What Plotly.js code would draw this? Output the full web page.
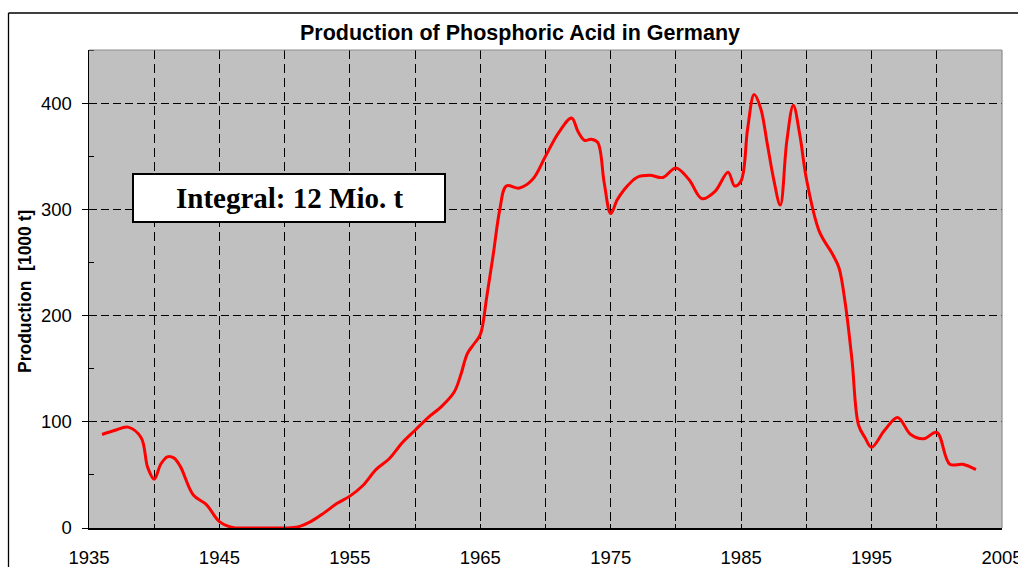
<!DOCTYPE html>
<html>
<head>
<meta charset="utf-8">
<script src="https://cdn.plot.ly/plotly-3.0.1.min.js"></script>
<style>
html,body{margin:0;padding:0;background:#fff;}
#chart{width:1018px;height:567px;}
</style>
</head>
<body>
<div id="chart"></div>
<script>
const years = [1936,1937,1938,1939,1939.5,1940,1940.5,1941,1941.5,1942,1943,1944,1945,1946,1947,1948,1949,1950,
  1951,1952,1953,1954,1955,1956,1957,1958,1959,1960,1961,1962,1963,1963.5,1964,1964.5,1965,1965.5,1966,1966.5,1967,
  1968,1969,1970,1971,1972,1972.5,1973,1973.5,1974,1974.5,1975,1975.5,1976,1977,1978,1979,1980,1981,1982,1983,1984,1984.5,
  1985,1985.5,1986,1986.5,1987,1987.5,1988,1988.5,1989,1989.5,1990,1991,1992,1992.5,1993,1993.5,1994,1994.5,
  1995,1996,1997,1998,1999,2000,2001,2002,2003];
const production = [88,92,95,85,57,46,60,67,66,58,31,22,6,0.5,0,0,0,0,
  1,6,14,23,30,40,55,65,80,92,104,114,128,144,164,173,182,218,258,300,322,
  320,328,350,372,386,373,365,366,363,325,296,309,318,330,332,330,339,328,310,317,335,322,
  327,376,408,395,362,328,304,364,398,370,329,279,258,245,210,158,97,85,
  76,92,104,88,84,90,60,60,55];

const xMajorTicks = [1935,1945,1955,1965,1975,1985,1995,2005];
const xTickLabels = ['1935','1945','1955','1965','1975','1985','1995','2005'];
const yTicks = [0,100,200,300,400];
const yTickLabels = ['0','100','200','300','400'];

const chartTitle = 'Production of Phosphoric Acid in Germany';
const yTitle = 'Production  [1000 t]';
const noteText = 'Integral: 12 Mio. t';

const FONT = 'Liberation Sans, Arial, sans-serif';
const W = 1018, H = 567, L = 89, R = 16, T = 50, B = 39;
const pw = W - L - R, ph = H - T - B;
const px = v => (v - L) / pw;
const py = v => (H - B - v) / ph;

const trace = {
  x: years, y: production, type: 'scatter', mode: 'lines',
  line: {color: '#ff0000', width: 3, shape: 'spline', smoothing: 1},
  hoverinfo: 'x+y'
};

const layout = {
  width: W, height: H,
  margin: {l: L, r: R, t: T, b: B},
  paper_bgcolor: '#ffffff',
  plot_bgcolor: '#c0c0c0',
  showlegend: false,
  font: {family: FONT, color: '#000', size: 18},
  title: {
    text: '<b>' + chartTitle + '</b>',
    font: {family: FONT, size: 21.5, color: '#000'},
    x: 520 / W, xref: 'container', xanchor: 'center',
    y: 1 - 32 / H, yref: 'container', yanchor: 'middle'
  },
  xaxis: {
    range: [1935, 2005],
    tickvals: xMajorTicks, ticktext: xTickLabels,
    ticks: 'inside', ticklen: 4, tickcolor: '#000', tickwidth: 1,
    showline: true, linecolor: '#000', linewidth: 1.5,
    showgrid: true, gridcolor: '#000', gridwidth: 1, griddash: '9px,5px',
    zeroline: false,
    ticklabelstandoff: 12,
    ticklabeloverflow: 'allow',
    tickfont: {family: FONT, size: 18.5, color: '#000'},
    minor: {dtick: 5, tick0: 1935, ticks: 'inside', ticklen: 4, tickcolor: '#000',
            showgrid: true, gridcolor: '#000', gridwidth: 1, griddash: '9px,5px'},
    fixedrange: true
  },
  yaxis: {
    range: [0, 450],
    tickvals: yTicks, ticktext: yTickLabels,
    ticks: 'outside', ticklen: 6, tickcolor: '#000', tickwidth: 1,
    showline: true, linecolor: '#000', linewidth: 1.5,
    showgrid: true, gridcolor: '#000', gridwidth: 1, griddash: '8px,4px',
    zeroline: false,
    ticklabelstandoff: 6,
    tickfont: {family: FONT, size: 18.5, color: '#000'},
    minor: {dtick: 50, tick0: 0, ticks: 'inside', ticklen: 5, tickcolor: '#000', showgrid: false},
    fixedrange: true
  },
  shapes: [
    {type: 'line', xref: 'paper', yref: 'paper', x0: 0, x1: 1, y0: 1, y1: 1,
     line: {color: '#8c8c8c', width: 1}, layer: 'above'},
    {type: 'line', xref: 'paper', yref: 'paper', x0: 1, x1: 1, y0: 0, y1: 1,
     line: {color: '#8c8c8c', width: 1.2}, layer: 'above'},
    {type: 'line', xref: 'paper', yref: 'paper', x0: px(8.5), x1: px(8.5), y0: py(13), y1: py(580),
     line: {color: '#000', width: 1.3}, layer: 'above'},
    {type: 'line', xref: 'paper', yref: 'paper', x0: px(8.5), x1: px(1030), y0: py(13), y1: py(13),
     line: {color: '#000', width: 1.3}, layer: 'above'},
    {type: 'rect', xref: 'paper', yref: 'paper', x0: px(133), x1: px(445), y0: py(222), y1: py(174),
     fillcolor: '#ffffff', line: {color: '#000', width: 2}, layer: 'above'}
  ],
  annotations: [
    {text: '<b>' + noteText + '</b>', xref: 'paper', yref: 'paper',
     x: px(289.5), y: py(198), xanchor: 'center', yanchor: 'middle', showarrow: false,
     font: {family: 'Liberation Serif, Times New Roman, serif', size: 29, color: '#000'}},
    {text: '<b>' + yTitle + '</b>', xref: 'paper', yref: 'paper',
     x: px(25), y: py(292), xanchor: 'center', yanchor: 'middle', showarrow: false,
     textangle: -90,
     font: {family: FONT, size: 17.5, color: '#000'}}
  ]
};

Plotly.newPlot('chart', [trace], layout, {displayModeBar: false, staticPlot: true});
</script>
</body>
</html>
